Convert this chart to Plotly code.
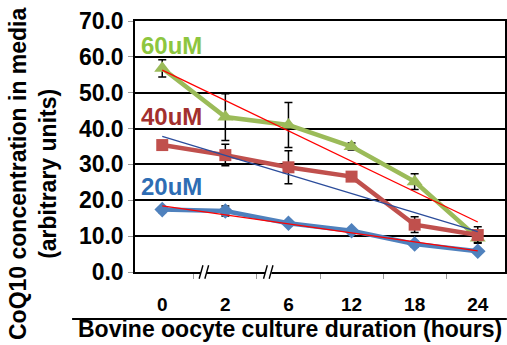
import numpy as np
import plotly.graph_objects as go

hours = ["0", "2", "6", "12", "18", "24"]
uM60 = [56.8, 43.2, 41.0, 35.0, 25.2, 9.5]
uM60_err = [2.4, 6.5, 6.3, 1.0, 2.2, 1.2]
uM40 = [35.4, 32.6, 29.2, 26.6, 13.2, 10.3]
uM40_err = [0.8, 3.0, 4.6, 0.8, 2.2, 2.3]
uM20 = [17.4, 17.0, 13.6, 11.5, 7.8, 5.8]
uM20_err = [0.8, 1.4, 0.6, 0.5, 0.8, 0.6]

GREEN = "#9BBB59"
RED = "#C0504D"
BLUE = "#4F81BD"

fig = go.Figure()

def err(vals):
    return dict(type="data", array=vals, visible=True, color="black",
                thickness=1.5, width=4)

idx = np.arange(len(hours))

fig.add_trace(go.Scatter(x=hours, y=uM60, mode="lines+markers",
                         line=dict(color=GREEN, width=4.5),
                         marker=dict(symbol="triangle-up", size=14, color=GREEN),
                         error_y=err(uM60_err)))
fig.add_trace(go.Scatter(x=hours, y=uM40, mode="lines+markers",
                         line=dict(color=RED, width=4.5),
                         marker=dict(symbol="square", size=12, color=RED),
                         error_y=err(uM40_err)))
fig.add_trace(go.Scatter(x=hours, y=uM20, mode="lines+markers",
                         line=dict(color=BLUE, width=4.5),
                         marker=dict(symbol="diamond", size=12, color=BLUE),
                         error_y=err(uM20_err)))

# linear trendlines (fitted on category index, as in a spreadsheet line chart)
for vals, col in [(uM60, "#FF0000"), (uM40, "#2B4C9B"), (uM20, "#FF0000")]:
    k, b = np.polyfit(idx, vals, 1)
    fig.add_trace(go.Scatter(x=hours, y=k * idx + b, mode="lines",
                             line=dict(color=col, width=1.3), hoverinfo="skip"))

# axis breaks
for bx in [0.66, 1.68]:
    fig.add_shape(type="rect", xref="x", yref="paper", x0=bx - 0.05, x1=bx + 0.05,
                  y0=-0.02, y1=0.02, fillcolor="white", line=dict(width=0))
    for dx in [-0.045, 0.045]:
        fig.add_shape(type="line", xref="x", yref="paper",
                      x0=bx + dx - 0.03, x1=bx + dx + 0.03, y0=-0.027, y1=0.027,
                      line=dict(color="black", width=1.4))

# bottom title rule
fig.add_shape(type="line", xref="paper", yref="paper", x0=-0.17, x1=1.005,
              y0=-0.187, y1=-0.187, line=dict(color="black", width=2))

FONT = "Liberation Sans, Arial, sans-serif"
fig.add_annotation(xref="paper", yref="paper", x=0.42, y=-0.227, yanchor="middle",
                   xanchor="center",
                   text="<b>Bovine oocyte culture duration (hours)</b>", showarrow=False,
                   font=dict(size=23, color="black", family=FONT))
fig.add_annotation(xref="paper", yref="paper", x=-0.276, y=0.39, textangle=-90,
                   xanchor="center", yanchor="middle",
                   text="<b>CoQ10 concentration in media<br>(arbitrary units)</b>",
                   showarrow=False, font=dict(size=23, color="black", family=FONT))

for txt, yv, col in [("60uM", 63.2, "#8DC63F"), ("40uM", 43.3, "#A3302E"),
                     ("20uM", 23.8, "#2E6DB4")]:
    fig.add_annotation(xref="paper", yref="y", x=0.01, y=yv, xanchor="left",
                       text=f"<b>{txt}</b>", showarrow=False,
                       font=dict(size=24, color=col, family=FONT))

fig.update_layout(
    width=507, height=345, showlegend=False,
    margin=dict(l=135, r=2, t=21, b=73, autoexpand=False),
    plot_bgcolor="white", paper_bgcolor="white",
    font=dict(family=FONT, color="black"),
)
fig.update_xaxes(type="category", showline=True, linecolor="black", linewidth=1.5,
                 mirror=True, ticks="outside", tickson="boundaries", ticklen=5,
                 tickcolor="#999999", showgrid=False,
                 tickfont=dict(size=19, family=FONT, color="black"),
                 ticklabelstandoff=14, tickprefix="<b>", ticksuffix="</b>")
fig.update_yaxes(range=[0, 70], dtick=10, tickformat=".1f", showline=True,
                 linecolor="black", linewidth=1.5, mirror=True,
                 ticks="outside", ticklen=5, tickcolor="#999999",
                 showgrid=True, gridcolor="black", gridwidth=1.5, zeroline=False,
                 tickfont=dict(size=23, family=FONT, color="black"),
                 tickprefix="<b>", ticksuffix="</b>")

fig.write_html("out.html", config={"displayModeBar": False},
               post_script="document.body.style.margin='0';document.body.style.overflow='hidden';")
